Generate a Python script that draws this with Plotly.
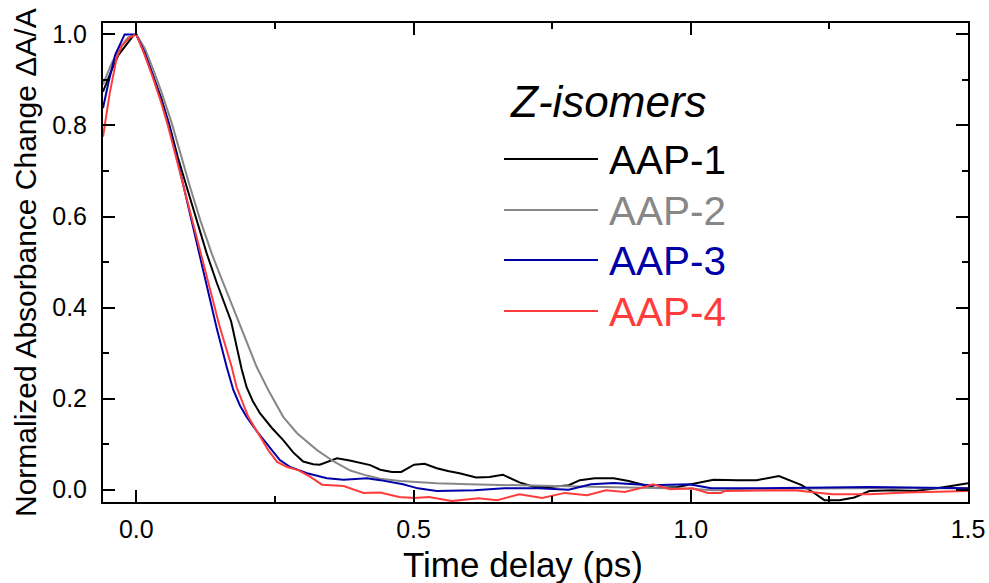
import plotly.graph_objects as go

# Normalized transient absorbance traces of the Z-isomers
t_aap1 = [-0.060, -0.045, -0.032, -0.020, -0.005, 0.000, 0.013, 0.030, 0.045, 0.060, 0.075,
          0.091, 0.110, 0.127, 0.145, 0.157, 0.171, 0.180, 0.190, 0.199, 0.210, 0.223, 0.245,
          0.265, 0.283, 0.301, 0.319, 0.331, 0.347, 0.362, 0.385, 0.404, 0.422, 0.440, 0.461,
          0.478, 0.501, 0.520, 0.542, 0.562, 0.583, 0.613, 0.637, 0.661, 0.691, 0.718, 0.746,
          0.780, 0.800, 0.827, 0.861, 0.888, 0.915, 0.936, 0.976, 1.010, 1.041, 1.085, 1.119,
          1.159, 1.200, 1.220, 1.241, 1.268, 1.295, 1.322, 1.363, 1.404, 1.444, 1.478, 1.500]
v_aap1 = [0.874, 0.920, 0.955, 0.975, 0.998, 1.000, 0.965, 0.910, 0.860, 0.800, 0.730,
          0.665, 0.590, 0.519, 0.455, 0.417, 0.370, 0.320, 0.265, 0.225, 0.195, 0.168, 0.135,
          0.109, 0.082, 0.062, 0.056, 0.055, 0.062, 0.069, 0.064, 0.058, 0.054, 0.044, 0.039,
          0.039, 0.055, 0.057, 0.047, 0.041, 0.036, 0.027, 0.028, 0.033, 0.016, 0.006, 0.006,
          0.010, 0.021, 0.025, 0.025, 0.019, 0.010, 0.004, 0.006, 0.015, 0.022, 0.021, 0.021,
          0.030, 0.010, -0.005, -0.023, -0.023, -0.017, -0.003, -0.001, -0.003, 0.003, 0.010,
          0.014]

t_aap2 = [-0.060, -0.045, -0.030, -0.015, 0.000, 0.015, 0.030, 0.045, 0.064, 0.080, 0.097,
          0.116, 0.136, 0.150, 0.170, 0.193, 0.217, 0.238, 0.265, 0.290, 0.326, 0.356, 0.386,
          0.416, 0.440, 0.476, 0.500, 0.542, 0.600, 0.650, 0.712, 0.800, 0.900, 1.000, 1.040,
          1.060, 1.100, 1.200, 1.300, 1.400, 1.500]
v_aap2 = [0.890, 0.935, 0.970, 0.993, 1.000, 0.970, 0.925, 0.875, 0.805, 0.735, 0.665,
          0.590, 0.519, 0.475, 0.413, 0.343, 0.270, 0.219, 0.160, 0.124, 0.087, 0.062, 0.042,
          0.031, 0.024, 0.019, 0.017, 0.014, 0.012, 0.010, 0.009, 0.007, 0.005, 0.002, -0.001,
          -0.001, 0.002, 0.003, 0.003, 0.003, 0.003]

t_aap3 = [-0.060, -0.050, -0.038, -0.021, -0.005, 0.000, 0.015, 0.030, 0.045, 0.058, 0.075,
          0.100, 0.125, 0.145, 0.163, 0.175, 0.187, 0.199, 0.220, 0.245, 0.259, 0.277, 0.308,
          0.344, 0.374, 0.416, 0.440, 0.481, 0.508, 0.542, 0.610, 0.664, 0.725, 0.780, 0.820,
          0.861, 0.902, 0.929, 0.997, 1.037, 1.119, 1.322, 1.500]
v_aap3 = [0.838, 0.895, 0.955, 1.000, 1.000, 1.000, 0.960, 0.910, 0.855, 0.805, 0.720,
          0.590, 0.460, 0.355, 0.270, 0.219, 0.185, 0.160, 0.124, 0.087, 0.065, 0.050, 0.036,
          0.025, 0.022, 0.025, 0.021, 0.012, 0.003, -0.003, -0.001, 0.003, 0.003, 0.000, 0.012,
          0.015, 0.012, 0.010, 0.012, 0.003, 0.003, 0.006, 0.003]

t_aap4 = [-0.060, -0.048, -0.035, -0.026, -0.012, 0.000, 0.015, 0.030, 0.045, 0.057, 0.075,
          0.100, 0.125, 0.150, 0.172, 0.181, 0.202, 0.220, 0.238, 0.254, 0.272, 0.292, 0.314,
          0.335, 0.374, 0.410, 0.440, 0.474, 0.501, 0.528, 0.569, 0.617, 0.651, 0.691, 0.732,
          0.773, 0.813, 0.847, 0.881, 0.908, 0.932, 0.963, 1.003, 1.031, 1.054, 1.061, 1.187,
          1.255, 1.322, 1.390, 1.500]
v_aap4 = [0.775, 0.870, 0.950, 0.975, 0.993, 1.000, 0.955, 0.905, 0.850, 0.800, 0.715,
          0.595, 0.475, 0.360, 0.270, 0.225, 0.160, 0.124, 0.087, 0.061, 0.050, 0.043, 0.028,
          0.011, 0.008, -0.007, -0.006, -0.016, -0.018, -0.016, -0.025, -0.019, -0.023,
          -0.010, -0.018, -0.007, -0.012, -0.001, -0.005, 0.003, 0.012, 0.001, 0.003, -0.007,
          -0.007, -0.003, -0.001, -0.010, -0.010, -0.006, -0.003]

series_names = ["AAP-1", "AAP-2", "AAP-3", "AAP-4"]
series_colors = ["#000000", "#878787", "#0000a8", "#ff3c3c"]
series_t = [t_aap1, t_aap2, t_aap3, t_aap4]
series_v = [v_aap1, v_aap2, v_aap3, v_aap4]

legend_title = "Z-isomers"
x_title = "Time delay (ps)"
y_title = "Normalized Absorbance Change \u0394A/A"

FONT = "Liberation Sans, Arial, sans-serif"
W, H = 989, 583
L, R, T, B = 103, 21, 23, 81
plot_w = W - L - R
plot_h = H - T - B


def px_x(px):
    return (px - L) / plot_w


def px_y(py):
    return (H - B - py) / plot_h


fig = go.Figure()
for name, color, tt, vv in zip(series_names, series_colors, series_t, series_v):
    fig.add_trace(go.Scatter(x=tt, y=vv, mode="lines", name=name,
                             line=dict(color=color, width=2), showlegend=False))

axis_common = dict(
    showline=True, linecolor="black", linewidth=2, mirror="ticks",
    ticks="inside", ticklen=12, tickwidth=1.5, tickcolor="black",
    showgrid=False, zeroline=False,
    tickfont=dict(family=FONT, size=25, color="black"),
)
fig.update_xaxes(range=[-0.06, 1.5], dtick=0.5, tick0=0, tickformat=".1f",
                 minor=dict(ticks="inside", ticklen=6, dtick=0.25, tick0=0,
                            tickcolor="black", tickwidth=1.5, showgrid=False),
                 ticklabelstandoff=4, **axis_common)
fig.update_yaxes(range=[-0.027, 1.025], dtick=0.2, tick0=0, tickformat=".1f",
                 minor=dict(ticks="inside", ticklen=6, dtick=0.1, tick0=0,
                            tickcolor="black", tickwidth=1.5, showgrid=False),
                 ticklabelstandoff=9, **axis_common)

annotations = [
    dict(x=px_x(523), y=px_y(564), text=x_title, showarrow=False,
         xref="paper", yref="paper", xanchor="center", yanchor="middle",
         font=dict(family=FONT, size=35, color="black")),
    dict(x=px_x(25), y=px_y(263), text=y_title, showarrow=False, textangle=-90,
         xref="paper", yref="paper", xanchor="center", yanchor="middle",
         font=dict(family=FONT, size=30, color="black")),
    dict(x=px_x(508), y=px_y(101), text="<i>" + legend_title + "</i>", showarrow=False,
         xref="paper", yref="paper", xanchor="left", yanchor="middle",
         font=dict(family=FONT, size=44, color="black")),
]
shapes = []
legend_rows = [159, 210, 260, 311]
for name, color, row in zip(series_names, series_colors, legend_rows):
    shapes.append(dict(type="line", xref="paper", yref="paper",
                       x0=px_x(504), x1=px_x(598), y0=px_y(row), y1=px_y(row),
                       line=dict(color=color, width=2)))
    annotations.append(dict(x=px_x(607), y=px_y(row + 1), text=name, showarrow=False,
                            xref="paper", yref="paper", xanchor="left", yanchor="middle",
                            font=dict(family=FONT, size=40.5, color=color)))

fig.update_layout(
    width=W, height=H,
    margin=dict(l=L, r=R, t=T, b=B, autoexpand=False),
    paper_bgcolor="white", plot_bgcolor="white",
    annotations=annotations, shapes=shapes,
    showlegend=False,
)

fig.write_html("out.html")
